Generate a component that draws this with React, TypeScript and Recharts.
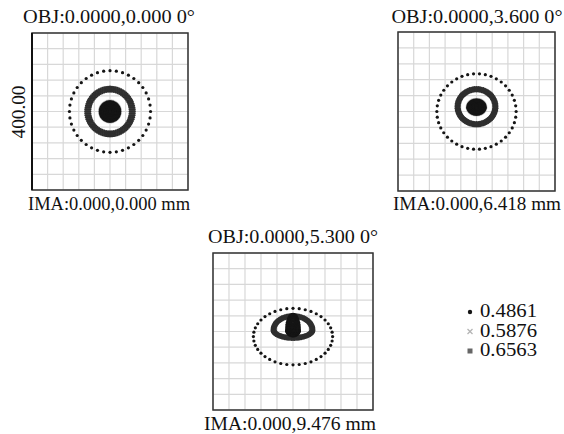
import { ScatterChart, Scatter, XAxis, YAxis, CartesianGrid, ReferenceArea } from 'recharts'

const WAVELENGTHS = ['0.4861', '0.5876', '0.6563']
const TICKS = [-200, -160, -120, -80, -40, 0, 40, 80, 120, 160, 200]
const SCALE_TICKS = [-200, 200]
const SCALE_LABEL = '400.00'
const TITLES = ['OBJ:0.0000,0.000 0°', 'OBJ:0.0000,3.600 0°', 'OBJ:0.0000,5.300 0°']
const IMA_LABELS = ['IMA:0.000,0.000 mm', 'IMA:0.000,6.418 mm', 'IMA:0.000,9.476 mm']

// ring of rays: [wavelength index, cx, cy, rx, ry top, ry bottom, rays]  (µm)
type Ring = [number, number, number, number, number, number, number]

const FIELD_0_RINGS: Ring[] = [
  [0, 0, 0, 104, 104, 104, 40],
  [2, 0, 0, 51, 51, 51, 64],
  [2, 0, 0, 54, 54, 54, 68],
  [2, 0, 0, 57, 57, 57, 72],
  [2, 0, 0, 60, 60, 60, 76],
  [2, 0, 0, 63, 63, 63, 80],
  [1, 0, 0, 28, 28, 28, 44],
  [0, 0, 0, 25, 25, 25, 40],
  [0, 0, 0, 21, 21, 21, 34],
  [0, 0, 0, 17, 17, 17, 28],
  [0, 0, 0, 13, 13, 13, 22],
  [0, 0, 0, 9, 9, 9, 16],
  [0, 0, 0, 5, 5, 5, 10],
  [0, 0, 0, 1, 1, 1, 4],
]

const FIELD_1_RINGS: Ring[] = [
  [0, 0, 0, 101, 95, 95, 42],
  [2, 0, 12, 43, 39, 39, 60],
  [2, 0, 12, 45.5, 41.5, 41.5, 64],
  [2, 0, 12, 48, 44, 44, 68],
  [2, 0, 12, 50.5, 46.5, 46.5, 72],
  [2, 0, 12, 53, 49, 49, 76],
  [1, 0, 11, 25, 21, 21, 40],
  [0, 0, 11, 22, 18, 18, 36],
  [0, 0, 11, 18, 15, 15, 30],
  [0, 0, 11, 14, 12, 12, 24],
  [0, 0, 11, 10, 8.5, 8.5, 18],
  [0, 0, 11, 6, 5, 5, 10],
  [0, 0, 11, 2, 2, 2, 4],
]

const FIELD_2_RINGS: Ring[] = [
  [0, 0, -13, 99, 72, 72, 40],
  [2, 0, 4, 53, 40, 25, 80],
  [2, 0, 4, 50, 37, 22, 76],
  [2, 0, 4, 47, 34, 19, 72],
  [2, 0, 4, 44, 31, 16, 68],
  [0, 0, 4, 16, 40, 15, 50],
  [0, 0, 4, 13, 32, 12, 40],
  [0, 0, 4, 10, 24, 9, 30],
  [0, 0, 4, 6, 16, 6, 20],
  [0, 0, 4, 3, 8, 3, 10],
]

const FIELDS = [FIELD_0_RINGS, FIELD_1_RINGS, FIELD_2_RINGS]

const COLORS = ['#151515', '#b4b4b4', '#2f2f2f']
const DOT_R = [1.6, 1.1, 1.2]
const DRAW_ORDER = [1, 2, 0]
const FONT = "'Liberation Serif', 'Times New Roman', serif"

const LAYOUT = [
  { left: 32, top: 33, w: 156, h: 157, titleX: 109, titleY: 23, titleW: 172, imaX: 109, imaY: 210, imaW: 162 },
  { left: 398, top: 32, w: 157, h: 159, titleX: 477, titleY: 23, titleW: 171, imaX: 477, imaY: 210, imaW: 168 },
  { left: 213, top: 253, w: 160, h: 157, titleX: 293, titleY: 243, titleW: 170, imaX: 290, imaY: 430, imaW: 172 },
]

function ringPoints(rings: Ring[], wave: number) {
  const pts: { x: number; y: number }[] = []
  rings.filter(r => r[0] === wave).forEach(([, cx, cy, rx, ryTop, ryBottom, rays]) => {
    for (let k = 0; k < rays; k++) {
      const t = (2 * Math.PI * k) / rays
      const s = Math.sin(t)
      pts.push({ x: cx + rx * Math.cos(t), y: cy + (s >= 0 ? ryTop : ryBottom) * s })
    }
  })
  return pts
}

const dot = (wave: number) => (p: any) => <circle cx={p.cx} cy={p.cy} r={DOT_R[wave]} fill={COLORS[wave]} />

function SpotPanel({ rings, layout, scaleBar }: { rings: Ring[]; layout: any; scaleBar: boolean }) {
  const barW = scaleBar ? 6 : 0
  return (
    <div style={{ position: 'absolute', left: layout.left - 1 - barW, top: layout.top - 1 }}>
      <ScatterChart width={layout.w + 2 + barW} height={layout.h + 2} margin={{ top: 1, right: 1, bottom: 1, left: 1 }}>
        <XAxis type="number" dataKey="x" domain={[-200, 200]} ticks={TICKS} interval={0} tickLine={false} axisLine={false} height={0} />
        <YAxis type="number" dataKey="y" domain={[-200, 200]} ticks={TICKS} interval={0} tickLine={false} axisLine={false} width={0} />
        {scaleBar && (
          <YAxis
            yAxisId="bar"
            type="number"
            domain={[-200, 200]}
            ticks={SCALE_TICKS}
            interval={0}
            tick={false}
            tickSize={6}
            tickLine={{ stroke: '#111', strokeWidth: 1.5 }}
            axisLine={{ stroke: '#111', strokeWidth: 2 }}
            width={6}
          />
        )}
        <CartesianGrid stroke="#d8d8d8" strokeWidth={1.2} />
        <ReferenceArea x1={-200} x2={200} y1={-200} y2={200} fill="none" stroke="#333" strokeWidth={1.5} ifOverflow="visible" />
        {DRAW_ORDER.map(w => (
          <Scatter key={w} name={WAVELENGTHS[w]} data={ringPoints(rings, w)} shape={dot(w)} isAnimationActive={false} />
        ))}
      </ScatterChart>
    </div>
  )
}

export default function App() {
  return (
    <div style={{ position: 'absolute', left: 0, top: 0, width: 564, height: 434, background: '#fff' }}>
      {FIELDS.map((rings, i) => (
        <SpotPanel key={i} rings={rings} layout={LAYOUT[i]} scaleBar={i === 0} />
      ))}
      <svg width={564} height={434} style={{ position: 'absolute', left: 0, top: 0, pointerEvents: 'none' }} fontFamily={FONT} fontSize={18} fill="#111">
        {TITLES.map((t, i) => (
          <text key={t} x={LAYOUT[i].titleX} y={LAYOUT[i].titleY} textAnchor="middle" textLength={LAYOUT[i].titleW} lengthAdjust="spacingAndGlyphs">{t}</text>
        ))}
        {IMA_LABELS.map((t, i) => (
          <text key={t} x={LAYOUT[i].imaX} y={LAYOUT[i].imaY} textAnchor="middle" textLength={LAYOUT[i].imaW} lengthAdjust="spacingAndGlyphs">{t}</text>
        ))}
        <text transform="translate(24.5,112) rotate(-90)" textAnchor="middle" textLength={53} lengthAdjust="spacingAndGlyphs">{SCALE_LABEL}</text>
        {WAVELENGTHS.map((w, i) => {
          const y = 312 + i * 19.5
          return (
            <g key={w}>
              {i === 0 && <circle cx={470} cy={y} r={2.2} fill={COLORS[0]} />}
              {i === 1 && (
                <g stroke={COLORS[1]} strokeWidth={1.2}>
                  <line x1={467.5} y1={y - 2.5} x2={472.5} y2={y + 2.5} />
                  <line x1={467.5} y1={y + 2.5} x2={472.5} y2={y - 2.5} />
                </g>
              )}
              {i === 2 && <rect x={467.5} y={y - 2.5} width={5} height={5} fill="#666" />}
              <text x={480} y={y + 5} textLength={57} lengthAdjust="spacingAndGlyphs">{w}</text>
            </g>
          )
        })}
      </svg>
    </div>
  )
}
